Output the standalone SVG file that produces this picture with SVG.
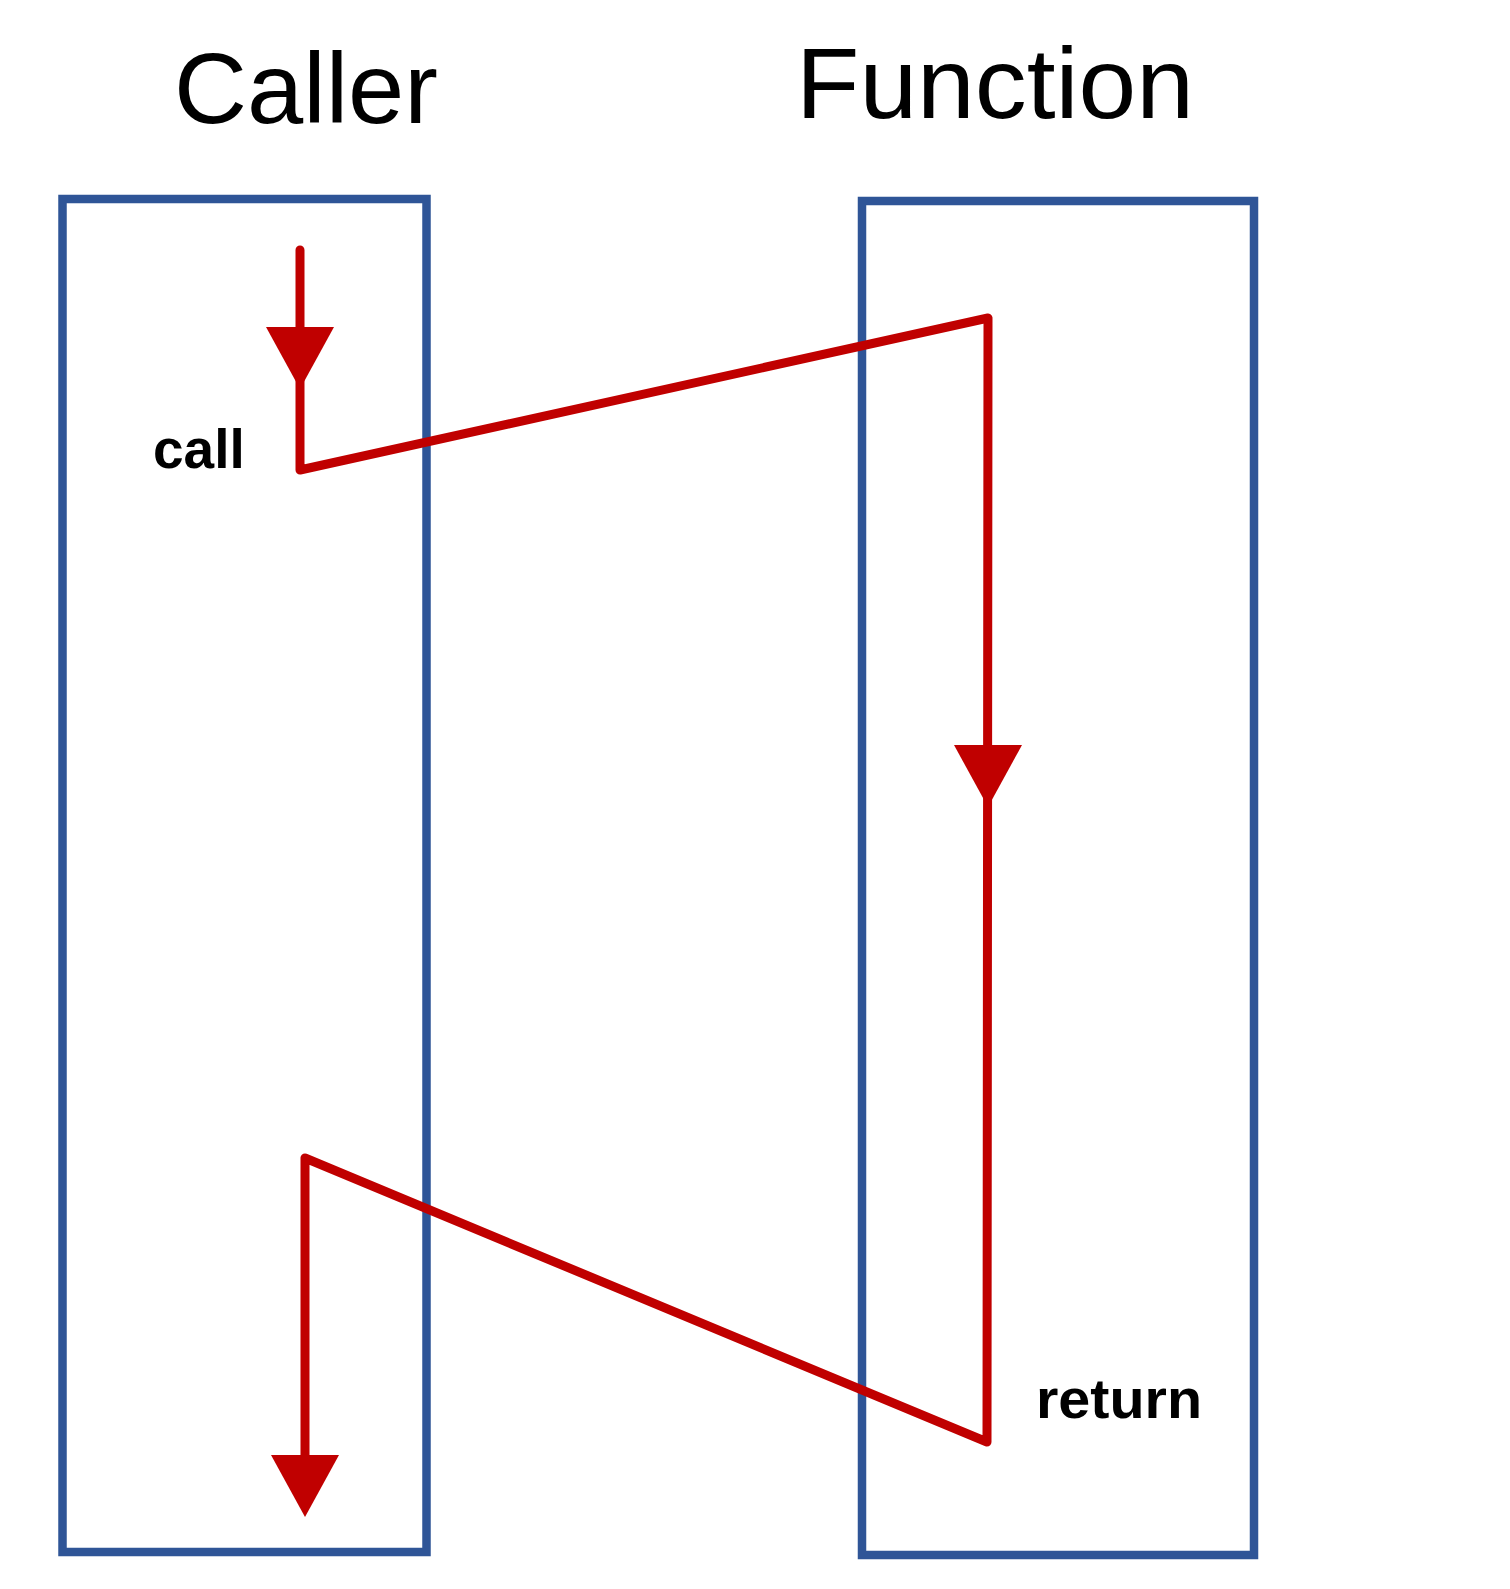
<svg xmlns="http://www.w3.org/2000/svg" xmlns:xlink="http://www.w3.org/1999/xlink" width="1510" height="1589" viewBox="0 0 1510 1589">
<style>
.box{fill:none;stroke:#2F5597;stroke-width:8.5}
.title{font-family:"Liberation Sans",Arial,sans-serif;font-size:101px;fill:#000}
.lbl{font-family:"Liberation Sans",Arial,sans-serif;font-size:55px;font-weight:bold;fill:#000}
.flow{fill:none;stroke:#C00000;stroke-width:9;stroke-linejoin:round;stroke-linecap:round}
.head{fill:#C00000}
</style>
<defs>
<polygon id="tri" points="-34,0 34,0 0,62"/>
</defs>
<rect width="1510" height="1589" fill="#fff"/>
<g id="caller">
<rect class="box" x="62.5" y="199" width="364" height="1353"/>
<text class="title" x="174" y="123" textLength="264" lengthAdjust="spacingAndGlyphs">Caller</text>
<text class="lbl" x="153" y="468">call</text>
</g>
<g id="function">
<rect class="box" x="862" y="201" width="392" height="1354"/>
<text class="title" x="796" y="118" textLength="398" lengthAdjust="spacingAndGlyphs">Function</text>
<text class="lbl" x="1036" y="1418" textLength="166" lengthAdjust="spacingAndGlyphs">return</text>
</g>
<g id="connectors">
<path class="flow" d="M300,250 L300,470 L988,318 L987,1442 L305,1158 L305,1505"/>
<use href="#tri" xlink:href="#tri" class="head" x="300" y="327"/>
<use href="#tri" xlink:href="#tri" class="head" x="988" y="745"/>
<use href="#tri" xlink:href="#tri" class="head" x="305" y="1455"/>
</g>
</svg>
